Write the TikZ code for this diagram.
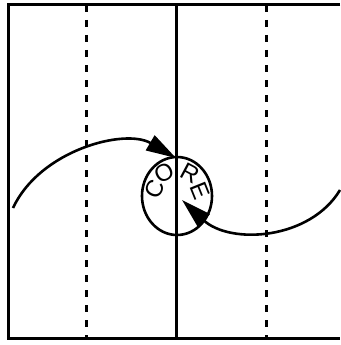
\documentclass[tikz,border=0pt]{standalone}
\usepackage{fontspec}
\setsansfont{Liberation Sans}
\usetikzlibrary{arrows.meta, shapes.geometric}

\begin{document}
\begin{tikzpicture}[x=1pt, y=-1pt, >={Triangle[length=30pt, width=17pt]},
      frame/.style={line width=3pt},
      guide/.style={line width=3pt, dash pattern=on 7pt off 8pt},
      flow/.style={->, line width=2.6pt},
      letter/.style={font=\sffamily\fontsize{24}{24}\selectfont, inner sep=0pt}]
    \useasboundingbox (0,0) rectangle (340,345);

    % box, open at the right
    \draw[frame] (340,5) -- (8,5) -- (8,338) -- (340,338);
    \draw[frame] (176,5) -- (176,338);
    \draw[guide] (86,5) -- (86,338);
    \draw[guide] (266,5) -- (266,338);

    \node[draw, ellipse, line width=2.6pt, minimum width=70pt, minimum height=78pt] (core) at (177,196) {};
    \node[letter, rotate=65]  (c) at (155,189) {C};
    \node[letter, rotate=28]  (o) at (164,173) {O};
    \node[letter, rotate=-28] (r) at (190,173) {R};
    \node[letter, rotate=-68] (e) at (200,191) {E};

    \coordinate (inL) at (13,208);
    \coordinate (inR) at (340,190);
    \coordinate (tipL) at (176,158);
    \coordinate (tipR) at (182,200);

    \draw[flow] (inL) .. controls (40,150) and (125,128) .. (tipL);
    \draw[flow] (inR) .. controls (310,240) and (230,245) .. (tipR);
  \end{tikzpicture}
\end{document}
